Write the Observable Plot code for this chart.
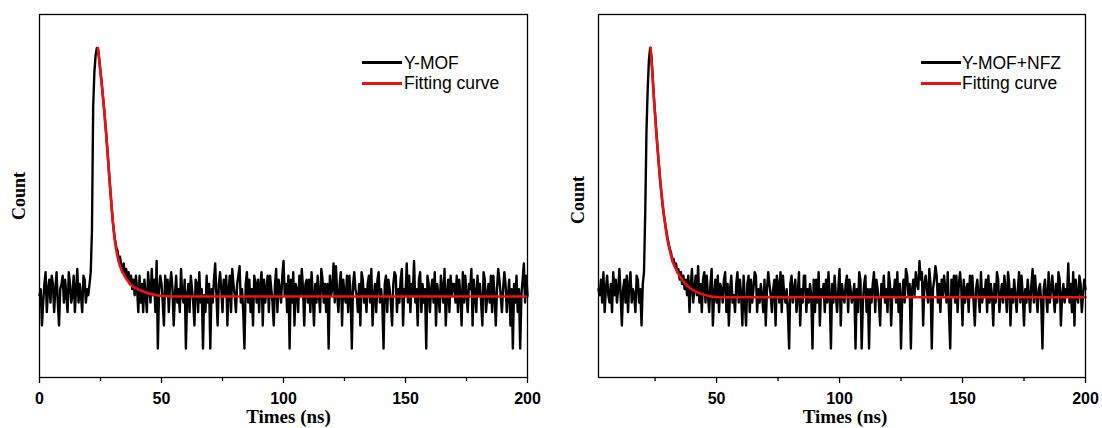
<!DOCTYPE html>
<html><head><meta charset="utf-8">
<script src="https://cdn.jsdelivr.net/npm/d3@7"></script>
<script src="https://cdn.jsdelivr.net/npm/@observablehq/plot@0.6"></script>
<style>
body{margin:0;background:#fff;}
#wrap{position:relative;width:1102px;height:428px;overflow:hidden;background:#fff;}
.panel{position:absolute;top:0;width:551px;height:428px;}
.lg-line{position:absolute;height:2.6px;width:40px;}
.lg-text{position:absolute;font-family:"Liberation Sans",Arial,sans-serif;font-size:17.5px;line-height:20px;color:#000;white-space:nowrap;}
</style></head>
<body><div id="wrap"></div>
<script>
// ---- data (photon counts per 0.5 ns channel) ----
const channelNs = 0.5;
const leftStart = 0;
const leftCounts = [
  5,6,2,4,7,10,3,6,8,4,9,7,3,6,10,4,2,6,7,9,
  4,8,5,3,10,7,4,5,9,3,6,11,4,7,5,3,9,8,4,6,
  5,7,10,35,1500,4200,7000,8700,8400,6200,4300,3000,2000,1350,880,560,340,200,120,75,
  48,34,26,21,19,14,16,12,10,13,9,11,8,10,7,9,6,8,5,9,
  6,3,9,4,7,3,8,5,3,10,6,4,11,5,8,3,14,1,6,9,
  7,4,2,9,5,8,3,7,10,6,2,5,9,4,6,3,11,5,4,8,
  1,5,7,3,9,6,4,2,8,7,3,10,4,6,1,5,3,9,4,7,
  1,6,4,8,13,5,2,7,10,6,3,8,5,9,2,6,9,3,11,7,
  5,3,7,9,12,4,6,3,1,7,10,4,8,3,6,2,9,7,4,8,
  3,7,10,2,8,4,6,9,3,9,6,4,2,7,11,3,8,6,4,9,
  14,5,7,3,9,1,8,4,10,2,7,6,3,9,5,11,6,2,7,8,
  4,8,3,10,5,2,7,4,9,5,3,11,8,4,7,3,7,1,9,5,
  6,13,4,12,5,3,7,10,2,8,5,4,9,3,9,5,1,7,10,6,
  5,3,7,2,10,8,4,6,3,7,9,4,11,2,5,7,3,8,10,4,
  6,4,1,7,9,3,8,6,4,2,7,10,9,3,6,4,8,11,2,6,
  5,13,4,9,3,7,5,14,4,6,2,8,10,3,7,4,6,1,9,7,
  3,6,8,4,10,2,7,5,3,9,6,4,11,2,5,8,3,9,5,7,
  7,4,9,3,8,5,2,10,4,9,5,3,7,6,11,2,8,5,3,9,
  5,7,4,2,10,8,3,5,7,4,9,3,9,5,2,6,11,8,5,3,
  6,10,7,3,5,8,2,6,1,7,4,9,3,6,1,5,8,13,4,9,
  5
];
const rightStart = 2;
const rightCounts = [
  6,5,8,4,10,3,6,9,5,4,7,3,10,5,8,4,6,11,5,2,
  6,8,4,9,3,7,10,4,6,5,3,9,8,4,6,2,7,10,60,700,
  2500,6000,8700,6800,3800,2000,1200,720,430,270,165,115,78,58,46,36,29,24,20,18,
  14,15,12,13,10,11,8,10,7,9,6,8,5,9,3,7,11,4,6,9,
  5,12,4,7,3,8,10,4,9,5,3,7,11,2,5,8,4,9,3,7,
  6,4,8,10,3,7,2,6,9,4,5,3,7,10,4,8,5,2,9,4,
  2,7,9,3,8,4,6,10,9,3,6,4,7,5,3,8,2,6,10,7,
  5,3,6,8,2,9,7,4,10,3,9,5,4,6,3,1,7,9,4,6,
  8,3,5,10,2,6,4,9,9,3,6,4,7,5,1,8,3,8,4,10,
  2,6,5,7,3,8,4,10,5,1,7,4,9,5,3,6,11,2,7,5,
  4,7,9,3,8,6,4,5,7,1,6,3,10,8,1,4,7,9,3,6,
  1,6,4,7,10,3,8,6,4,2,7,5,9,4,6,3,10,7,2,6,
  5,8,4,10,3,7,1,5,8,4,11,9,5,7,1,6,8,5,10,7,
  6,14,8,10,2,7,9,6,4,11,7,1,6,8,12,9,4,7,3,8,
  5,9,6,4,10,3,1,8,5,9,4,9,3,7,10,6,2,8,4,6,
  7,3,9,5,9,4,2,6,8,5,3,10,4,6,5,8,3,9,4,7,
  5,2,7,4,10,8,3,5,7,4,9,6,3,10,7,2,6,4,8,5,
  3,6,10,4,9,5,2,6,4,8,5,3,7,11,4,9,5,3,6,7,
  4,1,6,8,5,3,10,4,6,9,5,3,7,4,10,8,2,5,7,4,
  6,5,13,4,7,3,10,2,8,5,4,9,7,3,5,8,6
];
const leftFitTimes  = [23.9, 24.5, 25.5, 26.5, 27.3, 28.3, 29.4, 30.3, 31.2, 32, 33, 34.4, 37.2, 41.3, 48, 55, 200];
const leftFitCounts = [8700, 5800, 2900, 1350, 660, 240, 85, 38, 22, 16, 12, 9.5, 7.0, 5.8, 5.0, 4.8, 4.8];
const rightFitTimes  = [23.2, 23.8, 24.6, 25.3, 26.05, 26.8, 27.5, 28.9, 30, 31, 32.3, 33.8, 36, 38, 40.5, 43.7, 50.7, 200];
const rightFitCounts = [8700, 4500, 1780, 800, 394, 210, 118, 47.6, 27, 19.2, 13.5, 10.5, 8, 6.7, 5.8, 5.2, 4.7, 4.7];
const majorTicks = [0, 50, 100, 150, 200];
const minorTicks = [25, 75, 125, 175];
const leftLegend = ["Y-MOF", "Fitting curve"];
const rightLegend = ["Y-MOF+NFZ", "Fitting curve"];
const xLabel = "Times (ns)";
const yLabel = "Count";

const BLACK = "#000000", RED = "#ee1111";
const sans = "'Liberation Sans', Arial, sans-serif";
const serif = "'Liberation Serif', 'Times New Roman', serif";

function makePanel(o) {
  const data = o.counts.map((c, i) => ({t: o.start + i * channelNs, c}));
  const fit = o.fitT.map((t, i) => ({t, c: o.fitC[i]}));
  return Plot.plot({
    width: 551, height: 428,
    marginLeft: o.marginLeft, marginRight: o.marginRight, marginTop: 14, marginBottom: 51,
    style: {fontFamily: sans, fontSize: "16px", color: "#000", background: "#fff", overflow: "visible"},
    x: {domain: o.xDomain},
    y: {type: "log", domain: [0.417, 23850], axis: null},
    marks: [
      Plot.line(data, {x: "t", y: "c", stroke: BLACK, strokeWidth: 2.4, curve: "linear"}),
      Plot.line(fit, {x: "t", y: "c", stroke: RED, strokeWidth: 2.6, curve: "monotone-x"}),
      Plot.frame({stroke: BLACK, strokeWidth: 1.3}),
      Plot.axisX(majorTicks.filter(d => d >= o.xDomain[0]), {tickSize: 6, tickPadding: 9, fontWeight: "bold", fontSize: 16, label: null, strokeWidth: 1.3}),
      Plot.axisX(minorTicks, {tickSize: 4, tickFormat: () => "", label: null, strokeWidth: 1.3}),
      Plot.text([yLabel], {text: d => d, frameAnchor: "left", textAnchor: "middle", lineAnchor: "middle", rotate: -90, dx: -20, dy: o.countDy, fontFamily: serif, fontWeight: "bold", fontSize: 18}),
      Plot.text([xLabel], {text: d => d, frameAnchor: "bottom", textAnchor: "middle", dx: o.labelDx, dy: 39, lineAnchor: "middle", fontFamily: serif, fontWeight: "bold", fontSize: 19})
    ]
  });
}

const wrap = document.getElementById("wrap");
function addPanel(left, svg) {
  const d = document.createElement("div");
  d.className = "panel"; d.style.left = left + "px";
  d.appendChild(svg); wrap.appendChild(d);
}
addPanel(0, makePanel({counts: leftCounts, start: leftStart, fitT: leftFitTimes, fitC: leftFitCounts,
  xDomain: [0, 200], marginLeft: 39, marginRight: 24, labelDx: 5, countDy: 0}));
addPanel(551, makePanel({counts: rightCounts, start: rightStart, fitT: rightFitTimes, fitC: rightFitCounts,
  xDomain: [2, 200], marginLeft: 47, marginRight: 17, labelDx: 3, countDy: 4}));

function addLegend(lineLeft, textLeft, labels) {
  const ys = [62.5, 83.3];
  const colors = [BLACK, RED];
  labels.forEach((lab, i) => {
    const ln = document.createElement("div");
    ln.className = "lg-line";
    ln.style.left = lineLeft + "px"; ln.style.top = (ys[i] - 1.3) + "px"; ln.style.background = colors[i];
    wrap.appendChild(ln);
    const tx = document.createElement("div");
    tx.className = "lg-text";
    tx.style.left = textLeft + "px"; tx.style.top = (ys[i] - 10) + "px";
    tx.textContent = lab;
    wrap.appendChild(tx);
  });
}
addLegend(362, 404, leftLegend);
addLegend(921, 962, rightLegend);
</script>
</body></html>
